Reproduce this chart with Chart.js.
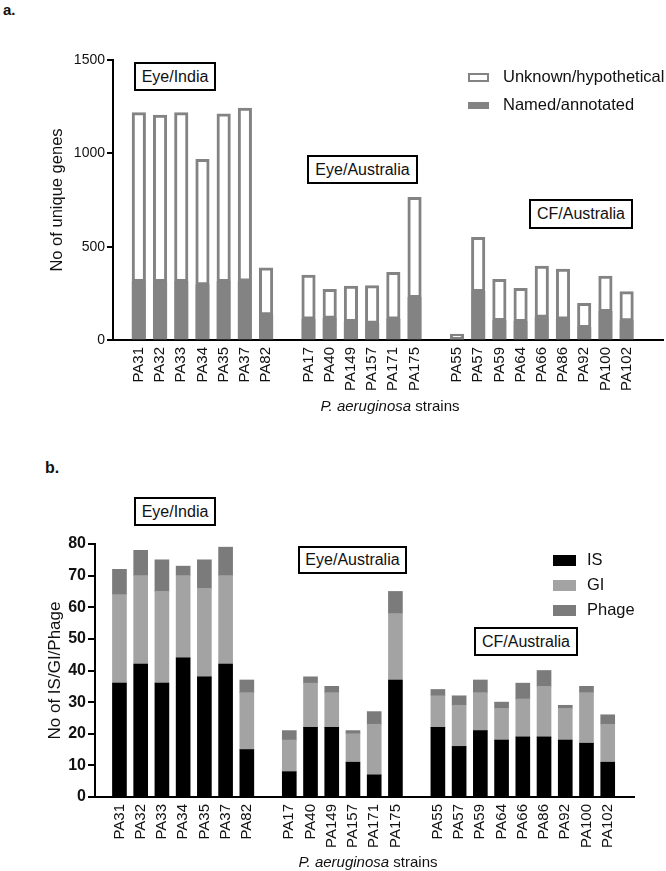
<!DOCTYPE html>
<html>
<head>
<meta charset="utf-8">
<script src="https://cdn.jsdelivr.net/npm/chart.js@4.4.0/dist/chart.umd.min.js"></script>
<style>
  body { margin: 0; background: #fff; font-family: "Liberation Sans", Arial, sans-serif; color: #111; }
  #wrap { position: relative; width: 666px; height: 871px; overflow: hidden; }
  canvas { position: absolute; left: 0; }
  .tag { position: absolute; border: 2px solid #000; box-sizing: border-box; font-size: 16px;
         display: flex; align-items: center; justify-content: center; background: #fff; }
  .panel { position: absolute; font-weight: bold; }
  .xt { position: absolute; font-size: 15px; transform: translateX(-50%); white-space: nowrap; }
  .lg { position: absolute; white-space: nowrap; }
  .sw { position: absolute; box-sizing: border-box; }
</style>
</head>
<body>
<div id="wrap">
  <div class="panel" style="left:3px;top:1px;font-size:15px">a.</div>
  <div class="panel" style="left:45px;top:459px;font-size:16px">b.</div>
  <canvas id="chartA" width="666" height="420" style="top:0"></canvas>
  <canvas id="chartB" width="666" height="451" style="top:420px"></canvas>
  <div class="xt" style="left:390px;top:397px"><i>P. aeruginosa</i> strains</div>
  <div class="xt" style="left:368px;top:853px"><i>P. aeruginosa</i> strains</div>
</div>
<script>
/* -------------------------
   data
   ------------------------- */
const groups = ['Eye/India', 'Eye/Australia', 'CF/Australia'];
const groupSizes = [7, 6, 9];
const strains = ['PA31', 'PA32', 'PA33', 'PA34', 'PA35', 'PA37', 'PA82',
  'PA17', 'PA40', 'PA149', 'PA157', 'PA171', 'PA175',
  'PA55', 'PA57', 'PA59', 'PA64', 'PA66', 'PA86', 'PA92', 'PA100', 'PA102'];

// panel a: unique genes
const named = [312, 312, 312, 295, 312, 315, 134, 111, 116, 98, 89, 112, 227, 5, 259, 104, 98, 121, 111, 66, 152, 102];
const unknown = [906, 893, 906, 673, 900, 928, 253, 237, 155, 191, 202, 251, 537, 27, 291, 221, 179, 275, 269, 131, 191, 157];
const ticksA = [0, 500, 1000, 1500];

// panel b: IS / GI / Phage
const isCounts = [36, 42, 36, 44, 38, 42, 15, 8, 22, 22, 11, 7, 37, 22, 16, 21, 18, 19, 19, 18, 17, 11];
const giCounts = [28, 28, 29, 26, 28, 28, 18, 10, 14, 11, 9, 16, 21, 10, 13, 12, 10, 12, 16, 10, 16, 12];
const phageCounts = [8, 8, 10, 3, 9, 9, 4, 3, 2, 2, 1, 4, 7, 2, 3, 4, 2, 5, 5, 1, 2, 3];
const ticksB = [0, 10, 20, 30, 40, 50, 60, 70, 80];

// slots on the x axis: one empty slot between groups
const slots = [];
const categories = [];
groupSizes.forEach((n, g) => {
  if (g > 0) categories.push('');
  for (let k = 0; k < n; k++) {
    slots.push(categories.length);
    categories.push(strains[slots.length - 1]);
  }
});
const pts = arr => arr.map((v, i) => ({ x: slots[i], y: v }));

const GRAY = '#838383';
Chart.defaults.font.family = '"Liberation Sans", Arial, sans-serif';
Chart.defaults.color = '#111';

function xScale(min, max) {
  return {
    type: 'linear', stacked: true, min, max,
    afterBuildTicks: s => { s.ticks = categories.map((c, i) => ({ value: i })); },
    afterFit: s => { s.height = 60; },
    grid: { drawOnChartArea: false, drawTicks: false },
    border: { color: '#000', width: 2 },
    ticks: {
      autoSkip: false, minRotation: 90, maxRotation: 90, padding: 7,
      font: { size: 15 }, color: '#111',
      callback: v => categories[v] || ''
    }
  };
}

function yScale(max, tickVals, width, opts) {
  return {
    stacked: true, min: 0, max,
    afterBuildTicks: s => { s.ticks = tickVals.map(v => ({ value: v })); },
    afterFit: s => { s.width = width; },
    grid: { drawOnChartArea: false, color: '#000', lineWidth: 2, tickLength: opts.tickLength },
    border: { color: '#000', width: 2 },
    ticks: { padding: 2, font: opts.tickFont, color: '#111', callback: v => String(v) },
    title: { display: true, text: opts.title, font: { size: opts.titleSize }, color: '#111', padding: { top: 4, bottom: 0 } }
  };
}

/* -------------------------
   panel a
   ------------------------- */
new Chart(document.getElementById('chartA'), {
  type: 'bar',
  data: {
    datasets: [
      { label: 'Named/annotated', data: pts(named), backgroundColor: GRAY, borderWidth: 0, barThickness: 13.5 },
      { label: 'Unknown/hypothetical', data: pts(unknown), backgroundColor: '#fff', borderColor: GRAY,
        borderWidth: 3, borderSkipped: false, barThickness: 13.5 }
    ]
  },
  options: {
    responsive: false, animation: false,
    layout: { padding: { left: 44, right: 3, top: 60, bottom: 20 } },
    plugins: { legend: { display: false }, tooltip: { enabled: false } },
    scales: {
      x: xScale(-0.678, 24.175),
      y: yScale(1500, ticksA, 69, { tickLength: 6, tickFont: { size: 14 }, title: 'No of unique genes', titleSize: 16.5 })
    }
  }
});

/* -------------------------
   panel b
   ------------------------- */
const chartB = new Chart(document.getElementById('chartB'), {
  type: 'bar',
  data: {
    datasets: [
      { label: 'IS', data: pts(isCounts), backgroundColor: '#000', barThickness: 14 },
      { label: 'GI', data: pts(giCounts), backgroundColor: '#a3a3a3', barThickness: 14 },
      { label: 'Phage', data: pts(phageCounts), backgroundColor: '#7b7b7b', barThickness: 14 }
    ]
  },
  options: {
    responsive: false, animation: false,
    layout: { padding: { left: 41, right: 32, top: 124, bottom: 14 } },
    plugins: { legend: { display: false }, tooltip: { enabled: false } },
    scales: {
      x: xScale(-0.623, 23.709),
      y: yScale(80, ticksB, 54, { tickLength: 7, tickFont: { size: 16, weight: 'bold' }, title: 'No of IS/GI/Phage', titleSize: 17 })
    }
  }
});

/* -------------------------
   group tags + legends (html)
   ------------------------- */
const wrap = document.getElementById('wrap');
const tagBoxes = [
  [134, 62, 82, 29], [307, 155, 111, 29], [529, 199, 104, 30],
  [134, 497, 82, 29], [298, 546, 109, 28], [474, 627, 104, 29]
];
tagBoxes.forEach((b, i) => {
  const d = document.createElement('div');
  d.className = 'tag';
  d.style.cssText = `left:${b[0]}px;top:${b[1]}px;width:${b[2]}px;height:${b[3]}px`;
  d.textContent = groups[i % 3];
  wrap.appendChild(d);
});

function legendItem(text, x, y, w, h, swStyle, textX, size) {
  const sw = document.createElement('div');
  sw.className = 'sw';
  sw.style.cssText = `left:${x}px;top:${y - h / 2}px;width:${w}px;height:${h}px;${swStyle}`;
  wrap.appendChild(sw);
  const t = document.createElement('div');
  t.className = 'lg';
  t.style.cssText = `left:${textX}px;top:${y - size * 0.6}px;font-size:${size}px;line-height:${size * 1.2}px`;
  t.textContent = text;
  wrap.appendChild(t);
}
legendItem('Unknown/hypothetical', 468, 77, 21, 9, `border:2.5px solid ${GRAY};background:#fff`, 503, 16.5);
legendItem('Named/annotated', 468, 105, 21, 7, `background:${GRAY}`, 503, 16.5);
chartB.data.datasets.forEach((ds, i) => {
  legendItem(ds.label, 553, 560 + i * 25, 23, 11, `background:${ds.backgroundColor}`, 587, 16.5);
});
</script>
</body>
</html>
